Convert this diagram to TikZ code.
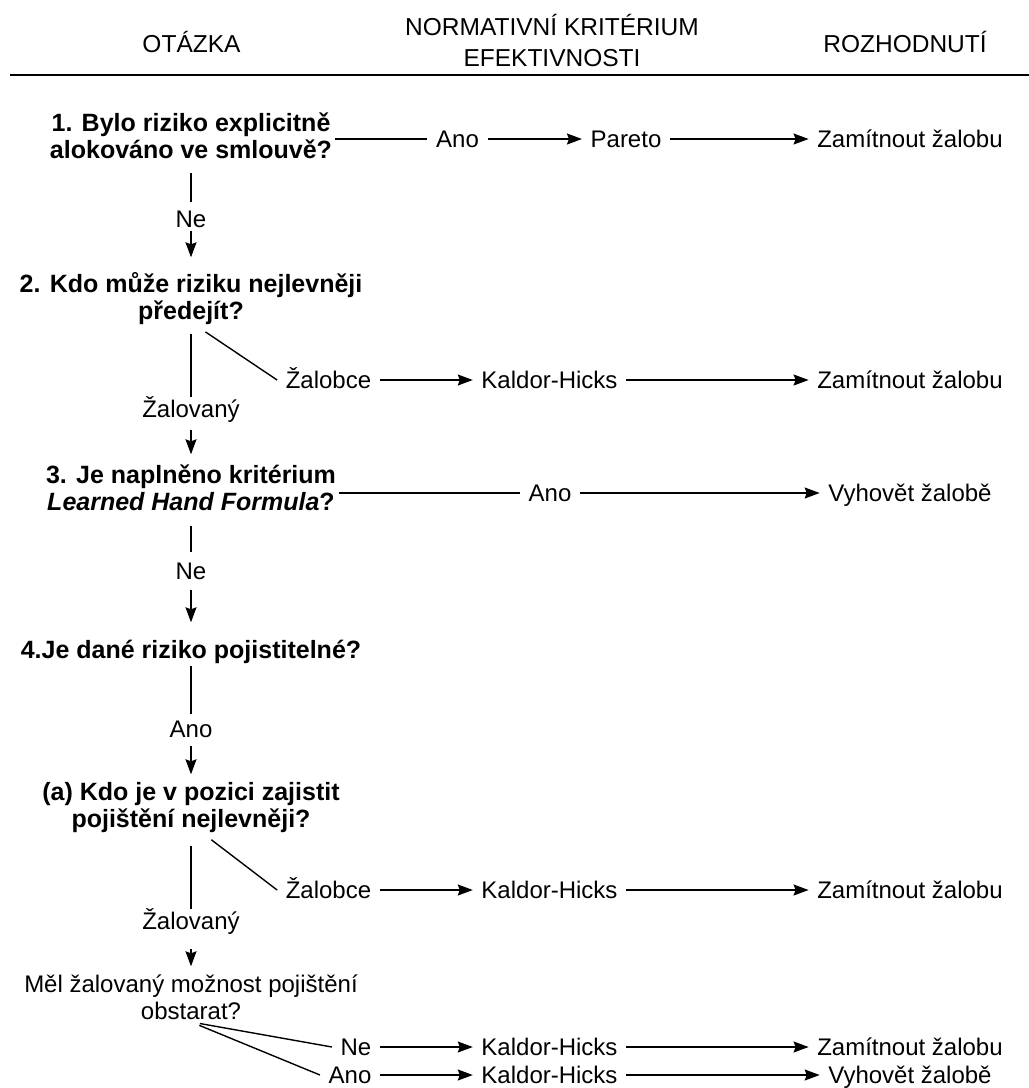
\documentclass[tikz,border=0pt]{standalone}
\usepackage{fontspec}
\setmainfont{Liberation Sans}
\usetikzlibrary{arrows.meta}

\begin{document}
\begin{tikzpicture}[x=1pt, y=-1pt, line width=1.4pt,
    >={Stealth[length=15pt, width=11pt, inset=2pt]},
    head/.style={font=\fontsize{24.5}{31}\selectfont, align=center, anchor=base, inner sep=0pt},
    quest/.style={font=\bfseries\fontsize{25}{27}\selectfont, align=center, anchor=base,
                  text height=45pt, inner xsep=2pt, inner ysep=2pt},
    plainquest/.style={quest, font=\fontsize{24}{27}\selectfont, text height=44pt},
    answer/.style={font=\fontsize{24}{27}\selectfont, text height=17pt, text depth=0pt,
                   inner xsep=8pt, inner ysep=3pt}]

    \useasboundingbox (0,0) rectangle (1029,1088);

    % header
    \node [head] (otazka) at (191.5,52) {OTÁZKA};
    \node [head] (kriterium) at (552,66) {NORMATIVNÍ KRITÉRIUM\\EFEKTIVNOSTI};
    \node [head] (rozhodnuti) at (905,52) {ROZHODNUTÍ};
    \coordinate (ruleL) at (10,75);
    \coordinate (ruleR) at (1029,75);
    \draw [line width=2.2pt] (ruleL) -- (ruleR);

    % questions (placed at the baseline of their last line)
    \node [quest] (q1) at (191,158) {1. Bylo riziko explicitně\\alokováno ve smlouvě?};
    \node [quest] (q2) at (191,319) {2. Kdo může riziku nejlevněji\\předejít?};
    \node [quest] (q3) at (191,510) {3. Je naplněno kritérium\\\textit{Learned Hand Formula}?};
    \node [quest, text height=18pt] (q4) at (191,658) {4.Je dané riziko pojistitelné?};
    \node [quest] (qa) at (191,827) {(a) Kdo je v pozici zajistit\\pojištění nejlevněji?};
    \node [plainquest] (q5) at (191,1019) {Měl žalovaný možnost pojištění\\obstarat?};

    % answers and criteria
    \node [answer] (ano1) at (457.5,139) {Ano};
    \node [answer] (pareto) at (626,139) {Pareto};
    \node [answer] (zam1) at (910,139) {Zamítnout žalobu};
    \node [answer] (ne1) at (191,218.5) {Ne};
    \node [answer] (zalobce2) at (328.5,380) {Žalobce};
    \node [answer] (kh2) at (549.5,380) {Kaldor-Hicks};
    \node [answer] (zam2) at (910,380) {Zamítnout žalobu};
    \node [answer] (zalovany2) at (191,409) {Žalovaný};
    \node [answer] (ano3) at (550,493) {Ano};
    \node [answer] (vyh3) at (910,493) {Vyhovět žalobě};
    \node [answer] (ne3) at (191,571) {Ne};
    \node [answer] (ano4) at (191,729) {Ano};
    \node [answer] (zalobceA) at (328.5,890) {Žalobce};
    \node [answer] (khA) at (549.5,890) {Kaldor-Hicks};
    \node [answer] (zamA) at (910,890) {Zamítnout žalobu};
    \node [answer] (zalovanyA) at (191,921) {Žalovaný};
    \node [answer] (ne5) at (356,1047) {Ne};
    \node [answer] (kh5n) at (549.5,1047) {Kaldor-Hicks};
    \node [answer] (zam5) at (910,1047) {Zamítnout žalobu};
    \node [answer] (ano5) at (350,1075) {Ano};
    \node [answer] (kh5a) at (549.5,1075) {Kaldor-Hicks};
    \node [answer] (vyh5) at (910,1075) {Vyhovět žalobě};

    % question 1
    \path (q1.east |- ano1.west) edge (ano1)
          (q1) edge [shorten <=12pt, shorten >=4pt] (ne1);
    \path [->]
          (ano1) edge (pareto)
          (pareto) edge (zam1)
          (ne1) edge [shorten >=14pt] (q2);

    % question 2
    \path (q2) edge [shorten <=7pt] (zalovany2)
          ([xshift=7pt]q2.south) edge [shorten <=9pt] (zalobce2.west);
    \path [->]
          (zalobce2) edge (kh2)
          (kh2) edge (zam2)
          (zalovany2) edge [shorten <=9pt, shorten >=8pt] (q3);

    % question 3
    \path (q3.east |- ano3.west) edge (ano3)
          (q3) edge [shorten <=13pt, shorten >=7pt] (ne3);
    \path [->]
          (ano3) edge (vyh3)
          (ne3) edge [shorten <=7pt, shorten >=15pt] (q4);

    % question 4
    \path (q4) edge [shorten >=3pt] (ano4);
    \path [->] (ano4) edge [shorten <=5pt, shorten >=5pt] (qa);

    % question (a)
    \path (qa) edge [shorten <=11pt] (zalovanyA)
          ([xshift=14pt]qa.south) edge [shorten <=8pt] (zalobceA.west);
    \path [->]
          (zalobceA) edge (khA)
          (khA) edge (zamA)
          (zalovanyA) edge [shorten <=16pt, shorten >=6pt] (q5);

    % insurance available
    \path (q5.south) edge [shorten <=9pt] (ne5.west)
          (q5.south) edge [shorten <=9pt] (ano5.west);
    \path [->]
          (ne5) edge (kh5n)
          (kh5n) edge (zam5)
          (ano5) edge (kh5a)
          (kh5a) edge (vyh5);
\end{tikzpicture}
\end{document}
